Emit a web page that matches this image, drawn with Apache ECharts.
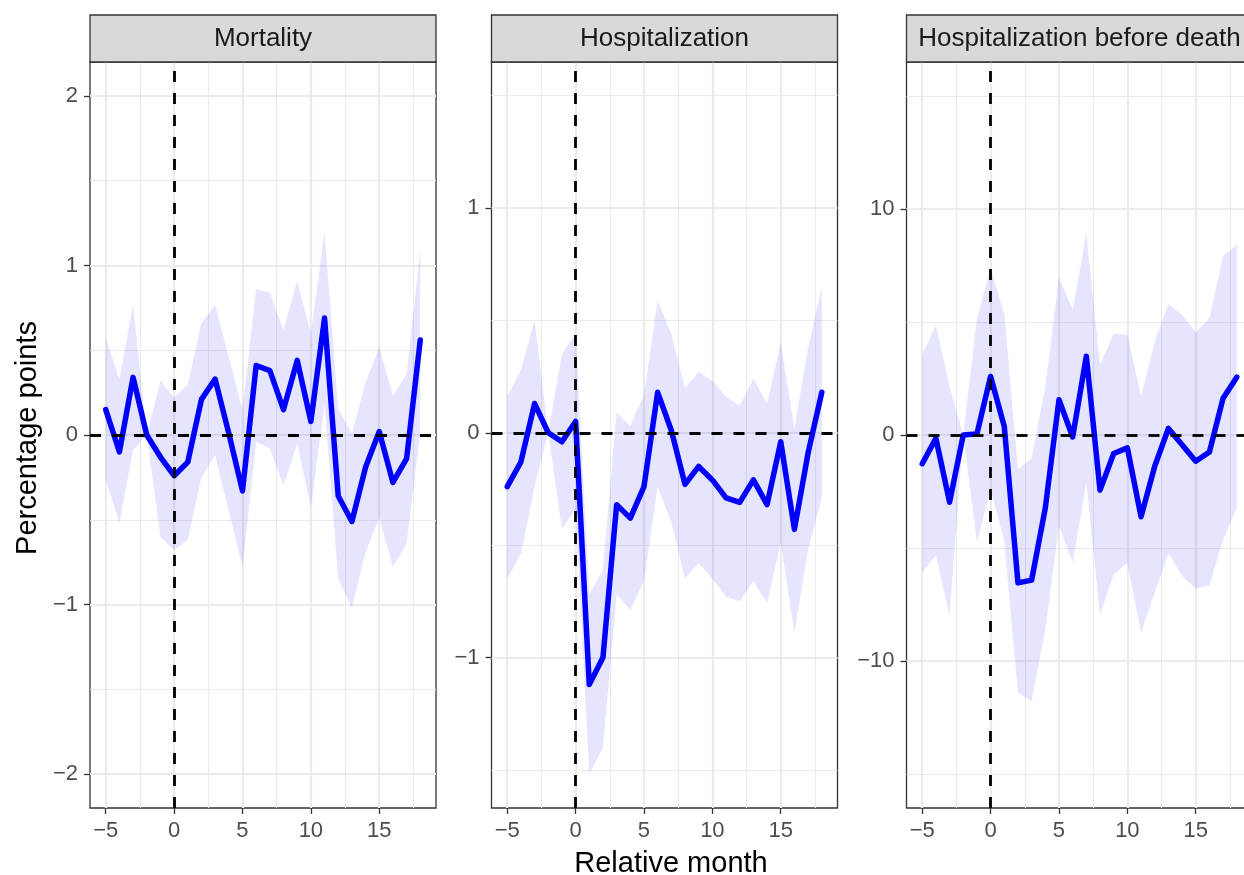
<!DOCTYPE html>
<html>
<head>
<meta charset="utf-8">
<script src="https://cdn.jsdelivr.net/npm/echarts@6/dist/echarts.min.js"></script>
<style>
html,body{margin:0;padding:0;background:#fff;}
#chart{width:1244px;height:875px;}
</style>
</head>
<body>
<div id="chart"></div>
<script>
// ---------------- data ----------------
const months = [-5,-4,-3,-2,-1,0,1,2,3,4,5,6,7,8,9,10,11,12,13,14,15,16,17,18];
const panelTitles = ['Mortality', 'Hospitalization', 'Hospitalization before death'];

const mortEst = [0.15,-0.10,0.34,0,-0.13,-0.24,-0.16,0.21,0.33,0.01,-0.33,0.41,0.38,0.15,0.44,0.08,0.69,-0.36,-0.51,-0.19,0.02,-0.28,-0.14,0.56];
const mortLo  = [-0.26,-0.52,-0.09,0,-0.60,-0.68,-0.62,-0.25,-0.12,-0.45,-0.78,-0.04,-0.08,-0.30,-0.05,-0.43,0.18,-0.85,-1.02,-0.69,-0.49,-0.78,-0.64,0.01];
const mortHi  = [0.57,0.33,0.77,0,0.32,0.22,0.30,0.66,0.77,0.46,0.15,0.86,0.84,0.62,0.91,0.60,1.20,0.15,0.01,0.31,0.52,0.23,0.36,1.09];

const hospEst = [-0.24,-0.13,0.13,0,-0.04,0.05,-1.12,-1.00,-0.32,-0.38,-0.24,0.18,0.01,-0.23,-0.15,-0.21,-0.29,-0.31,-0.21,-0.32,-0.04,-0.43,-0.09,0.18];
const hospLo  = [-0.65,-0.54,-0.24,0,-0.43,-0.34,-1.52,-1.40,-0.72,-0.79,-0.66,-0.24,-0.40,-0.65,-0.58,-0.65,-0.73,-0.75,-0.66,-0.76,-0.49,-0.89,-0.52,-0.29];
const hospHi  = [0.16,0.28,0.50,0,0.35,0.44,-0.72,-0.61,0.09,0.03,0.17,0.59,0.44,0.20,0.27,0.23,0.16,0.12,0.24,0.13,0.40,0.02,0.38,0.65];

const deathEst = [-1.27,-0.15,-2.97,0,0.05,2.59,0.38,-6.54,-6.42,-3.23,1.56,-0.09,3.48,-2.44,-0.82,-0.57,-3.62,-1.38,0.29,-0.43,-1.16,-0.75,1.63,2.56];
const deathLo  = [-6.07,-5.33,-8.01,0,-4.77,-2.40,-4.70,-11.40,-11.77,-8.60,-4.04,-5.63,-2.12,-7.94,-6.17,-5.66,-8.75,-6.98,-5.24,-6.24,-6.80,-6.66,-4.62,-3.23];
const deathHi  = [3.55,4.87,2.15,0,5.17,7.38,5.39,-1.53,-1.02,2.15,6.98,5.54,8.92,3.11,4.48,4.43,1.71,4.14,5.80,5.32,4.55,5.17,7.92,8.41];

const xTicks = [-5, 0, 5, 10, 15];
const yTicks1 = [-2, -1, 0, 1, 2];
const yTicks2 = [-1, 0, 1];
const yTicks3 = [-10, 0, 10];
const refMonth = 0;
const refValue = 0;

// ---------------- layout ----------------
const FONT = "'Liberation Sans', Arial, Helvetica, sans-serif";
const panelLeft = [90, 491.5, 906.5];
const panelWidth = 346;
const panelTop = 62;
const panelHeight = 746;
const stripTop = 15;
const xRange = [-6.15, 19.15];
const yRanges = [[-2.2, 2.2], [-1.67, 1.65], [-16.5, 16.5]];
const ySplit = [5, 3, 3];

const panels = [
  {est: mortEst, lo: mortLo, hi: mortHi, yTicks: yTicks1},
  {est: hospEst, lo: hospLo, hi: hospHi, yTicks: yTicks2},
  {est: deathEst, lo: deathLo, hi: deathHi, yTicks: yTicks3}
];

function fmtNum(v) {
  return String(v).replace('-', '\u2212');
}

const grids = [], xAxes = [], yAxes = [], series = [], graphics = [];

panels.forEach((p, k) => {
  grids.push({
    left: panelLeft[k], top: panelTop, width: panelWidth, height: panelHeight,
    show: true, borderColor: '#333333', borderWidth: 1.3, backgroundColor: 'transparent',
    containLabel: false, outerBoundsMode: 'none'
  });
  xAxes.push({
    type: 'value', gridIndex: k, position: 'bottom', min: xRange[0], max: xRange[1], splitNumber: 5,
    axisLine: {show: false, onZero: false},
    axisTick: {show: true, length: 6, lineStyle: {color: '#333333', width: 1.3}, customValues: xTicks},
    axisLabel: {
      show: true, margin: 12, color: '#4D4D4D', fontSize: 22, fontFamily: FONT,
      customValues: xTicks,
      formatter: v => xTicks.indexOf(v) >= 0 ? fmtNum(v) : ''
    },
    splitLine: {show: true, lineStyle: {color: '#EBEBEB', width: 2.2}},
    minorTick: {show: false, splitNumber: 2},
    minorSplitLine: {show: true, lineStyle: {color: '#EBEBEB', width: 1.1}}
  });
  yAxes.push({
    type: 'value', gridIndex: k, position: 'left', min: yRanges[k][0], max: yRanges[k][1], splitNumber: ySplit[k],
    axisLine: {show: false, onZero: false},
    axisTick: {show: true, length: 6, lineStyle: {color: '#333333', width: 1.3}, customValues: p.yTicks},
    axisLabel: {
      show: true, margin: 12, color: '#4D4D4D', fontSize: 22, fontFamily: FONT,
      customValues: p.yTicks,
      formatter: v => p.yTicks.indexOf(v) >= 0 ? fmtNum(v) : ''
    },
    splitLine: {show: true, lineStyle: {color: '#EBEBEB', width: 2.2}},
    minorTick: {show: false, splitNumber: 2},
    minorSplitLine: {show: true, lineStyle: {color: '#EBEBEB', width: 1.1}}
  });

  // reference dashed lines
  series.push({
    type: 'line', xAxisIndex: k, yAxisIndex: k, data: [], z: 1, silent: true,
    markLine: {
      silent: true, symbol: ['none', 'none'], animation: false,
      label: {show: false},
      lineStyle: {color: '#000000', width: 2.8, type: [11, 11]},
      emphasis: {disabled: true},
      data: [{xAxis: refMonth}, {yAxis: refValue}]
    }
  });

  // confidence ribbon
  series.push({
    type: 'custom', xAxisIndex: k, yAxisIndex: k, z: 2, silent: true,
    data: months.map((m, i) => [m, p.lo[i], p.hi[i]]),
    encode: {x: 0, y: [1, 2]},
    renderItem: function (params, api) {
      if (params.dataIndex !== 0) return null;
      const pts = [];
      for (let i = 0; i < months.length; i++) pts.push(api.coord([months[i], p.hi[i]]));
      for (let i = months.length - 1; i >= 0; i--) pts.push(api.coord([months[i], p.lo[i]]));
      return {type: 'polygon', shape: {points: pts}, style: {fill: 'rgba(0,0,255,0.1)', stroke: null}};
    }
  });

  // estimate line
  series.push({
    type: 'line', xAxisIndex: k, yAxisIndex: k, z: 3, silent: true,
    data: months.map((m, i) => [m, p.est[i]]),
    symbol: 'none', smooth: false,
    lineStyle: {color: '#0000FF', width: 5.5, join: 'round', cap: 'round'}
  });

  // strip
  graphics.push({
    type: 'rect', z: 10,
    shape: {x: panelLeft[k], y: stripTop, width: panelWidth, height: panelTop - stripTop},
    style: {fill: '#D9D9D9', stroke: '#333333', lineWidth: 1.3}
  });
  graphics.push({
    type: 'text', z: 11,
    x: panelLeft[k] + panelWidth / 2, y: (stripTop + panelTop) / 2,
    style: {text: panelTitles[k], fill: '#1A1A1A', font: '26px ' + FONT, align: 'center', verticalAlign: 'middle'}
  });
});

graphics.push({
  type: 'text', z: 11, x: 671, y: 864,
  style: {text: 'Relative month', fill: '#000000', font: '29px ' + FONT, align: 'center', verticalAlign: 'middle'}
});
graphics.push({
  type: 'text', z: 11, x: 28, y: 438, rotation: Math.PI / 2,
  style: {text: 'Percentage points', fill: '#000000', font: '29px ' + FONT, align: 'center', verticalAlign: 'middle'}
});

const chart = echarts.init(document.getElementById('chart'), null, {renderer: 'canvas'});
chart.setOption({
  animation: false,
  backgroundColor: '#ffffff',
  grid: grids,
  xAxis: xAxes,
  yAxis: yAxes,
  series: series,
  graphic: graphics
});
</script>
</body>
</html>
